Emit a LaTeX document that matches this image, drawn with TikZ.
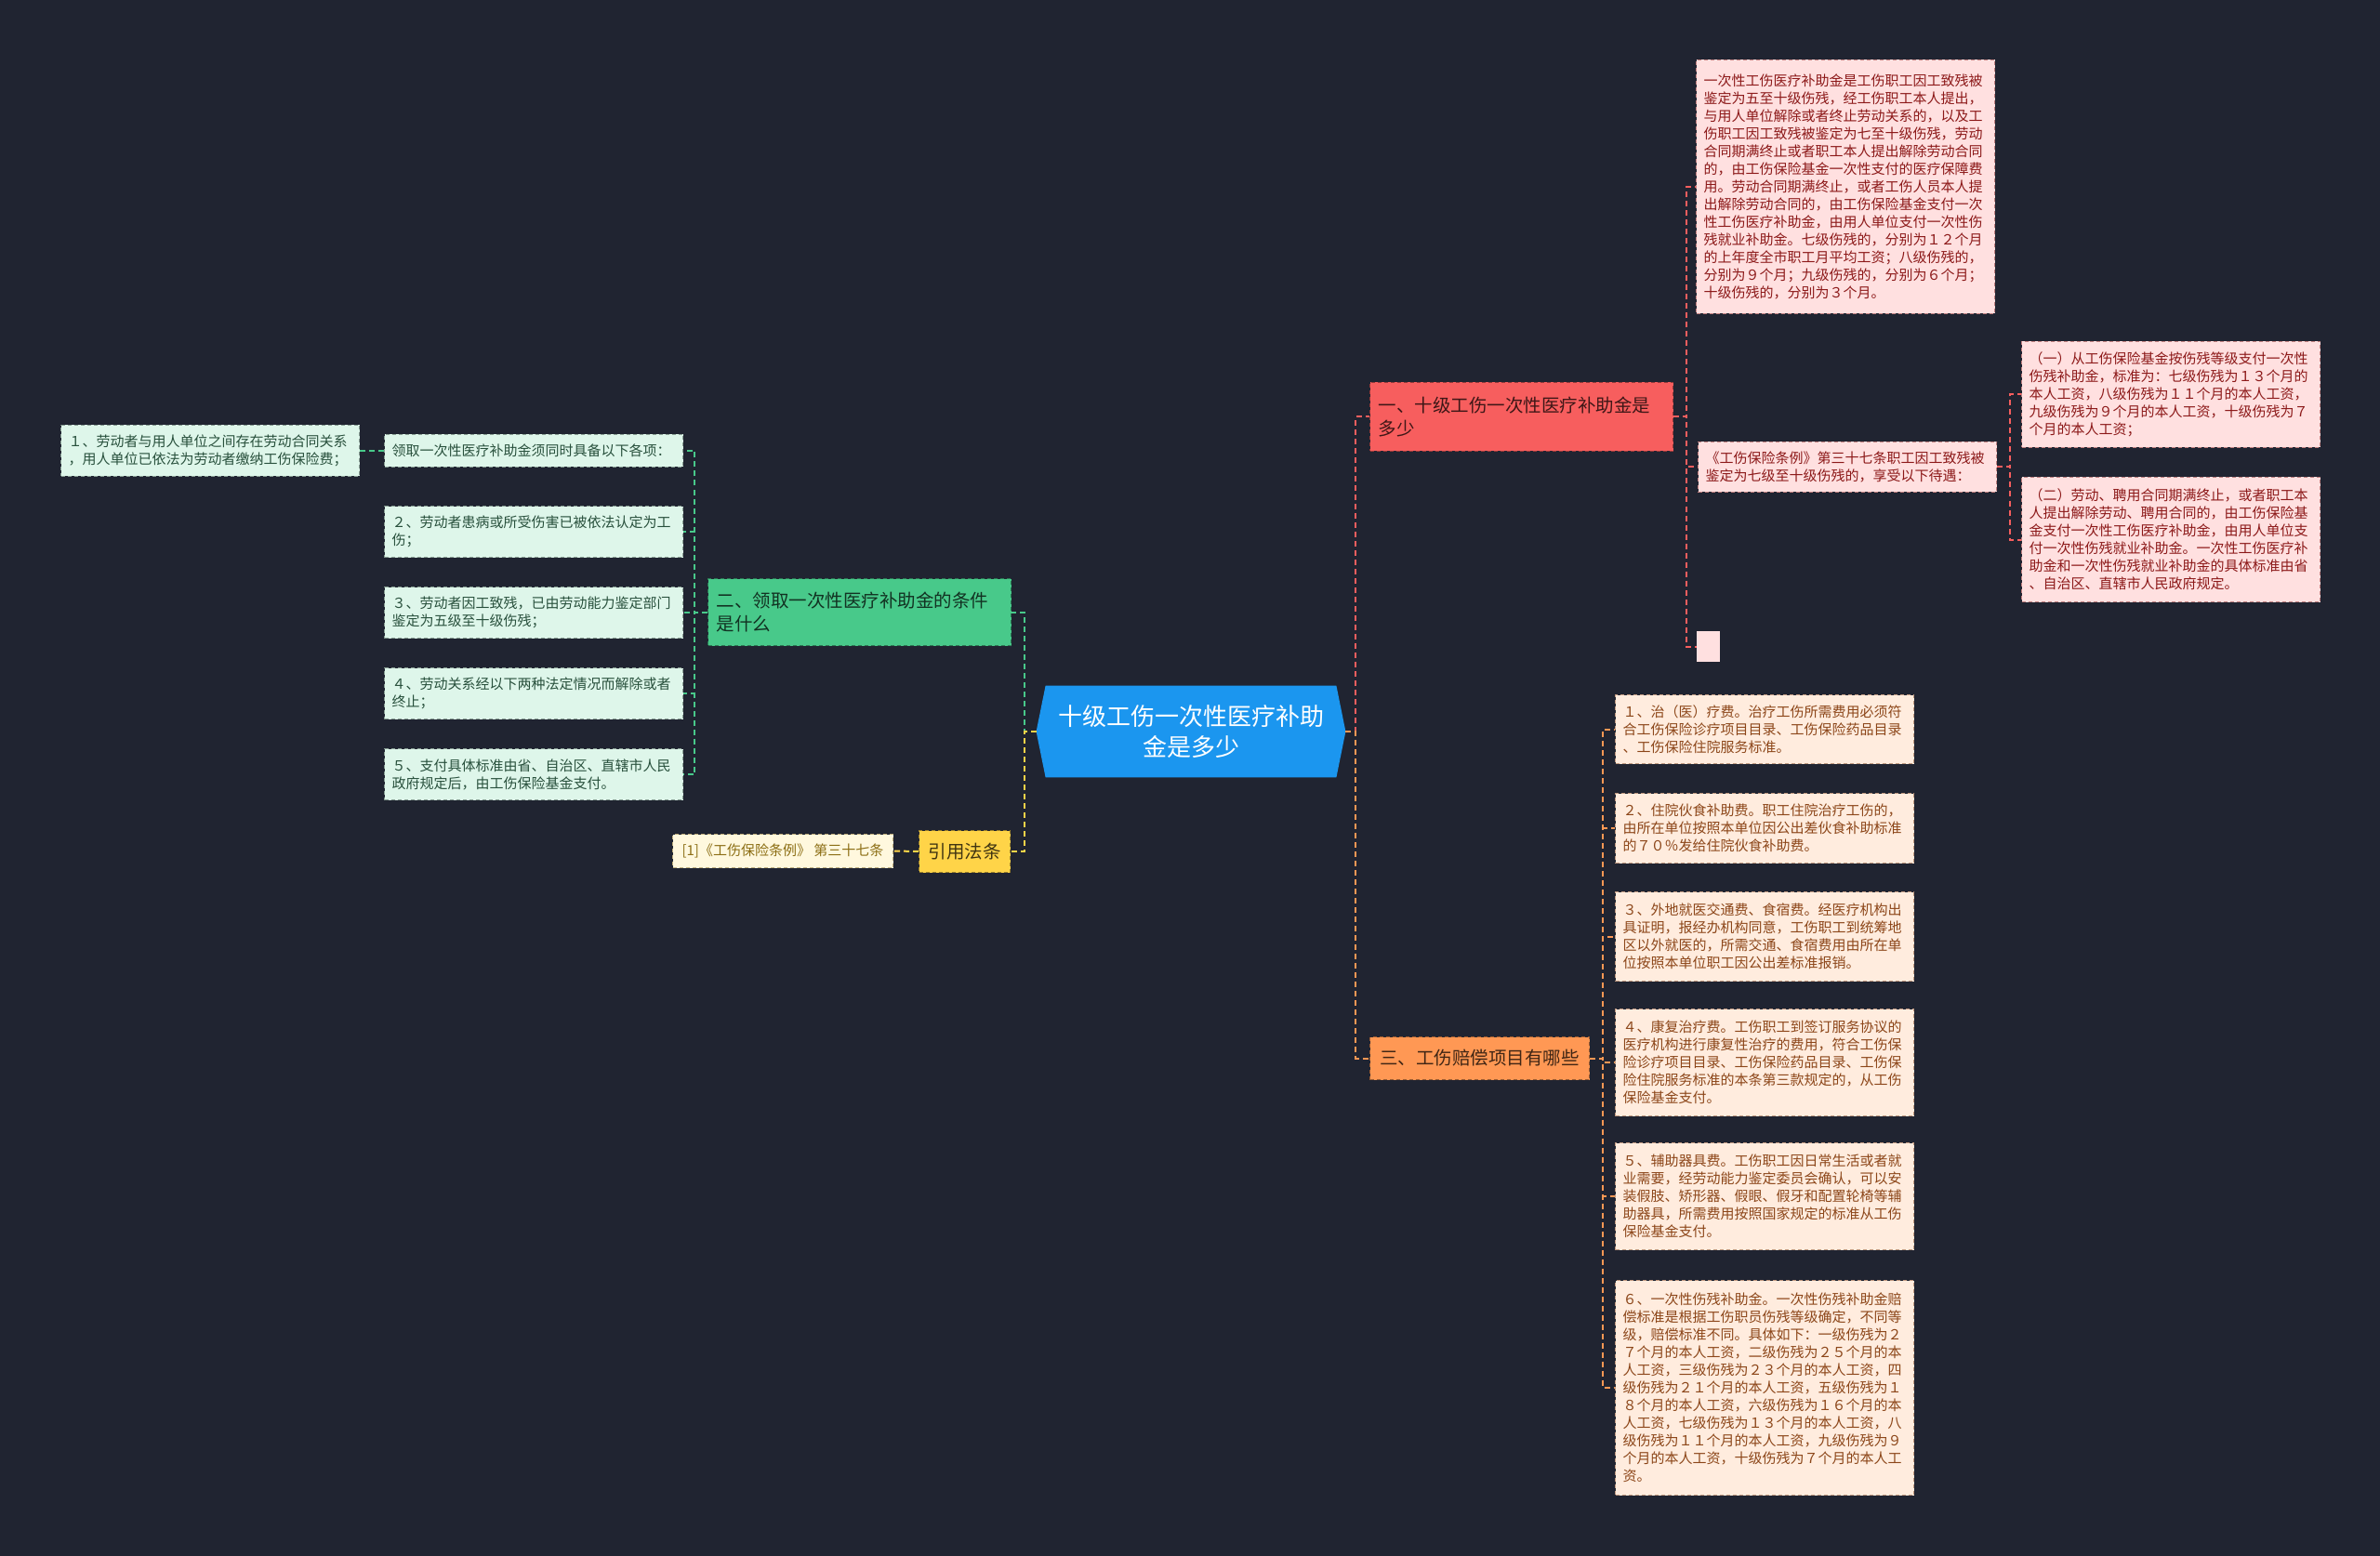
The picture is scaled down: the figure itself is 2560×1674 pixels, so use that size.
\documentclass[tikz,border=0pt]{standalone}
\usepackage{fontspec}
\setmainfont{Noto Sans CJK SC}
\usepackage{xcolor}
\definecolor{bgdark}{RGB}{32,36,49}
\definecolor{rootblue}{RGB}{27,150,239}
\definecolor{redmain}{RGB}{247,94,94}
\definecolor{greenmain}{RGB}{72,201,138}
\definecolor{orangemain}{RGB}{255,152,84}
\definecolor{yellowmain}{RGB}{255,212,72}
\definecolor{pinkleaf}{RGB}{255,224,224}
\definecolor{pinktext}{RGB}{140,25,25}
\definecolor{mintleaf}{RGB}{222,246,234}
\definecolor{minttext}{RGB}{40,80,60}
\definecolor{peachleaf}{RGB}{255,236,222}
\definecolor{peachtext}{RGB}{140,70,25}
\definecolor{creamleaf}{RGB}{255,248,222}
\definecolor{creamtext}{RGB}{140,110,20}
\usepackage{tikz}
\usetikzlibrary{backgrounds}
\tikzset{
  mm_root/.style={rectangle,text=white,align=center,
    font=\fontsize{13pt}{16.5pt}\selectfont,
    minimum width=166pt,minimum height=49pt,inner sep=0pt},
  mm_main/.style={rectangle,anchor=north west,
    fill=#1,draw=#1!60!black,text=#1!25!black,
    dash pattern=on 2pt off 1.5pt,line width=0.5pt,
    align=left,inner xsep=4.5pt,inner ysep=0pt,
    font=\fontsize{9.75pt}{12.85pt}\selectfont},
  mm_leaf/.style 2 args={rectangle,anchor=north west,
    fill=#1,draw=#2!55,text=#2,
    dash pattern=on 2pt off 1.5pt,line width=0.5pt,
    text width=152.5pt,align=left,inner xsep=4pt,inner ysep=0pt,
    font=\fontsize{7.5pt}{9.5pt}\selectfont},
  mm_cite/.style={rectangle,anchor=north west,
    fill=creamleaf,draw=creamtext!55,text=creamtext,
    dash pattern=on 2pt off 1.5pt,line width=0.5pt,
    inner xsep=3.5pt,inner ysep=0pt,
    font=\fontsize{7.5pt}{9.5pt}\selectfont},
  conn/.style={draw=#1,line width=1pt,dash pattern=on 3pt off 2pt},
}

\begin{document}
\begin{tikzpicture}[x=0.5pt,y=-0.5pt]
  \useasboundingbox (0,0) rectangle (2560,1674);
  \begin{scope}[on background layer]
    \fill[bgdark] (0,0) rectangle (2560,1674);
  \end{scope}

  % centre
  \node (root) [mm_root] at (1281,787)
    {十级工伤一次性医疗补助\\金是多少};
  \begin{scope}[on background layer]
    \fill[rootblue] ([xshift=5pt]root.north west) -- ([xshift=-5pt]root.north east)
      -- (root.east) -- ([xshift=-5pt]root.south east)
      -- ([xshift=5pt]root.south west) -- (root.west) -- cycle;
  \end{scope}

  % main branches
  \node (n1) [mm_main=redmain,text width=154pt,minimum height=37pt] at (1473,411)
    {一、十级工伤一次性医疗补助金是\\多少};
  \node (n2) [mm_main=greenmain,text width=154pt,minimum height=36pt] at (761,622)
    {二、领取一次性医疗补助金的条件\\是什么};
  \node (n3) [mm_main=orangemain,minimum width=118pt,minimum height=23pt] at (1473,1115)
    {三、工伤赔偿项目有哪些};
  \node (n4) [mm_main=yellowmain,minimum width=49pt,minimum height=22.5pt] at (988,893)
    {引用法条};

  % branch one
  \node (rbig) [mm_leaf={pinkleaf}{pinktext},minimum height=136.5pt] at (1824,64)
    {一次性工伤医疗补助金是工伤职工因工致残被\\
     鉴定为五至十级伤残，经工伤职工本人提出，\\
     与用人单位解除或者终止劳动关系的，以及工\\
     伤职工因工致残被鉴定为七至十级伤残，劳动\\
     合同期满终止或者职工本人提出解除劳动合同\\
     的，由工伤保险基金一次性支付的医疗保障费\\
     用。劳动合同期满终止，或者工伤人员本人提\\
     出解除劳动合同的，由工伤保险基金支付一次\\
     性工伤医疗补助金，由用人单位支付一次性伤\\
     残就业补助金。七级伤残的，分别为１２个月\\
     的上年度全市职工月平均工资；八级伤残的，\\
     分别为９个月；九级伤残的，分别为６个月；\\
     十级伤残的，分别为３个月。};
  \node (rlaw) [mm_leaf={pinkleaf}{pinktext},minimum height=27pt] at (1826,475)
    {《工伤保险条例》第三十七条职工因工致残被\\
     鉴定为七级至十级伤残的，享受以下待遇：};
  \node (rempty) [rectangle,anchor=north west,fill=pinkleaf,inner sep=0pt,
    minimum width=12.5pt,minimum height=16.5pt] at (1825,679) {};
  \node (rone) [mm_leaf={pinkleaf}{pinktext},minimum height=57pt] at (2174,367)
    {（一）从工伤保险基金按伤残等级支付一次性\\
     伤残补助金，标准为：七级伤残为１３个月的\\
     本人工资，八级伤残为１１个月的本人工资，\\
     九级伤残为９个月的本人工资，十级伤残为７\\
     个月的本人工资；};
  \node (rtwo) [mm_leaf={pinkleaf}{pinktext},minimum height=67pt] at (2174,513)
    {（二）劳动、聘用合同期满终止，或者职工本\\
     人提出解除劳动、聘用合同的，由工伤保险基\\
     金支付一次性工伤医疗补助金，由用人单位支\\
     付一次性伤残就业补助金。一次性工伤医疗补\\
     助金和一次性伤残就业补助金的具体标准由省\\
     、自治区、直辖市人民政府规定。};

  % branch two
  \node (lq) [mm_leaf={mintleaf}{minttext},minimum height=17.5pt] at (413,467)
    {领取一次性医疗补助金须同时具备以下各项：};
  \node (l1) [mm_leaf={mintleaf}{minttext},minimum height=27.5pt] at (65,457)
    {１、劳动者与用人单位之间存在劳动合同关系\\
     ，用人单位已依法为劳动者缴纳工伤保险费；};
  \node (l2) [mm_leaf={mintleaf}{minttext},minimum height=27.5pt] at (413,544)
    {２、劳动者患病或所受伤害已被依法认定为工\\伤；};
  \node (l3) [mm_leaf={mintleaf}{minttext},minimum height=27.5pt] at (413,631)
    {３、劳动者因工致残，已由劳动能力鉴定部门\\鉴定为五级至十级伤残；};
  \node (l4) [mm_leaf={mintleaf}{minttext},minimum height=27.5pt] at (413,718)
    {４、劳动关系经以下两种法定情况而解除或者\\终止；};
  \node (l5) [mm_leaf={mintleaf}{minttext},minimum height=27.5pt] at (413,805)
    {５、支付具体标准由省、自治区、直辖市人民\\政府规定后，由工伤保险基金支付。};

  % branch three
  \node (o1) [mm_leaf={peachleaf}{peachtext},minimum height=37pt] at (1737,747)
    {１、治（医）疗费。治疗工伤所需费用必须符\\
     合工伤保险诊疗项目目录、工伤保险药品目录\\
     、工伤保险住院服务标准。};
  \node (o2) [mm_leaf={peachleaf}{peachtext},minimum height=37.5pt] at (1737,853)
    {２、住院伙食补助费。职工住院治疗工伤的，\\
     由所在单位按照本单位因公出差伙食补助标准\\
     的７０％发给住院伙食补助费。};
  \node (o3) [mm_leaf={peachleaf}{peachtext},minimum height=48pt] at (1737,959)
    {３、外地就医交通费、食宿费。经医疗机构出\\
     具证明，报经办机构同意，工伤职工到统筹地\\
     区以外就医的，所需交通、食宿费用由所在单\\
     位按照本单位职工因公出差标准报销。};
  \node (o4) [mm_leaf={peachleaf}{peachtext},minimum height=57.5pt] at (1737,1085)
    {４、康复治疗费。工伤职工到签订服务协议的\\
     医疗机构进行康复性治疗的费用，符合工伤保\\
     险诊疗项目目录、工伤保险药品目录、工伤保\\
     险住院服务标准的本条第三款规定的，从工伤\\
     保险基金支付。};
  \node (o5) [mm_leaf={peachleaf}{peachtext},minimum height=57.5pt] at (1737,1229)
    {５、辅助器具费。工伤职工因日常生活或者就\\
     业需要，经劳动能力鉴定委员会确认，可以安\\
     装假肢、矫形器、假眼、假牙和配置轮椅等辅\\
     助器具，所需费用按照国家规定的标准从工伤\\
     保险基金支付。};
  \node (o6) [mm_leaf={peachleaf}{peachtext},minimum height=115.5pt] at (1737,1377)
    {６、一次性伤残补助金。一次性伤残补助金赔\\
     偿标准是根据工伤职员伤残等级确定，不同等\\
     级，赔偿标准不同。具体如下：一级伤残为２\\
     ７个月的本人工资，二级伤残为２５个月的本\\
     人工资，三级伤残为２３个月的本人工资，四\\
     级伤残为２１个月的本人工资，五级伤残为１\\
     ８个月的本人工资，六级伤残为１６个月的本\\
     人工资，七级伤残为１３个月的本人工资，八\\
     级伤残为１１个月的本人工资，九级伤残为９\\
     个月的本人工资，十级伤残为７个月的本人工\\
     资。};

  % citation
  \node (cite) [mm_cite,minimum width=118.5pt,minimum height=18pt] at (723,897)
    {[1]《工伤保险条例》 第三十七条};

  % connectors
  \draw[conn=greenmain] (root.west) -- ++(-13,0) |- (n2.east);
  \draw[conn=yellowmain] (root.west) -- ++(-13,0) |- (n4.east);
  \draw[conn=redmain] (root.east) -- ++(11,0) |- (n1.west);
  \draw[conn=orangemain] (root.east) -- ++(11,0) |- (n3.west);
  \foreach \c in {rbig,rlaw,rempty}
    \draw[conn=redmain] (n1.east) -- ++(14,0) |- (\c.west);
  \foreach \c in {rone,rtwo}
    \draw[conn=redmain] (rlaw.east) -- ++(14,0) |- (\c.west);
  \foreach \c in {lq,l2,l3,l4,l5}
    \draw[conn=greenmain] (n2.west) -- ++(-14,0) |- (\c.east);
  \draw[conn=greenmain] (lq.west) -- (l1.east);
  \foreach \c in {o1,o2,o3,o4,o5,o6}
    \draw[conn=orangemain] (n3.east) -- ++(14,0) |- (\c.west);
  \draw[conn=yellowmain] (n4.west) -- (cite.east);
\end{tikzpicture}
\end{document}
